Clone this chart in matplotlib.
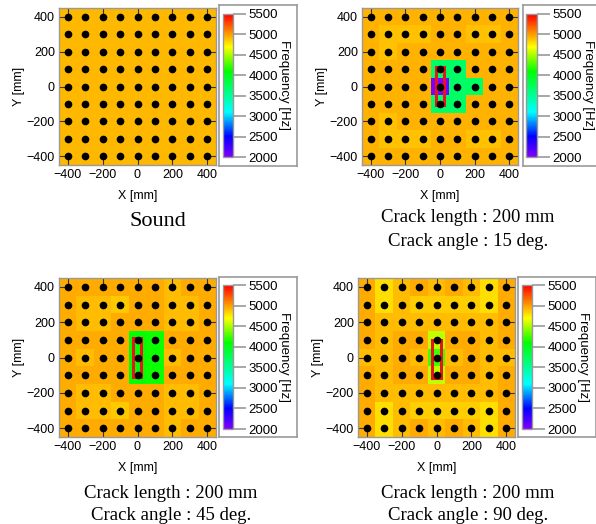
import numpy as np
import matplotlib.pyplot as plt
from matplotlib.colors import LinearSegmentedColormap, Normalize
from matplotlib.cm import ScalarMappable
from matplotlib.patches import Rectangle

plt.rcParams['font.family'] = ['Liberation Sans', 'DejaVu Sans']

W, H = 596, 524

# sensor grid positions [mm]
x_pos = [-400, -300, -200, -100, 0, 100, 200, 300, 400]
y_pos = [400, 300, 200, 100, 0, -100, -200, -300, -400]

# frequency maps [Hz], rows from y=400 down to y=-400
freq_sound = [[4925] * 9 for _ in range(9)]

freq_15 = [
    [4930, 4930, 4930, 4930, 4930, 4930, 4930, 4930, 4930],
    [4930, 4885, 4885, 4885, 4930, 4930, 4885, 4885, 4930],
    [4930, 4885, 4930, 4930, 4930, 4930, 4930, 4930, 4930],
    [4930, 4930, 4930, 4930, 3700, 3700, 4930, 4930, 4930],
    [4930, 4930, 4930, 4930, 2020, 3700, 3720, 4930, 4930],
    [4930, 4930, 4930, 4930, 3700, 3700, 4930, 4930, 4930],
    [4930, 4885, 4930, 4930, 4930, 4930, 4930, 4930, 4930],
    [4930, 4885, 4885, 4885, 4930, 4930, 4885, 4885, 4930],
    [4930, 4930, 4930, 4930, 4930, 4930, 4930, 4930, 4930],
]

freq_45 = [
    [4960, 4960, 4960, 4960, 4960, 4960, 4910, 4960, 4960],
    [4960, 4910, 4910, 4860, 4960, 4960, 4910, 4910, 4960],
    [4960, 4910, 4910, 4960, 4960, 4960, 4910, 4910, 4960],
    [4960, 4960, 4960, 4960, 4080, 4120, 4960, 4960, 4960],
    [4960, 4910, 4960, 4960, 4080, 4120, 4910, 4960, 4960],
    [4960, 4960, 4960, 4960, 4080, 4120, 4960, 4960, 4960],
    [4960, 4910, 4910, 4960, 4960, 4960, 4910, 4910, 4960],
    [4960, 4910, 4910, 4860, 4960, 4960, 4910, 4910, 4960],
    [4960, 4960, 4960, 4960, 4960, 4960, 4910, 4960, 4960],
]

freq_90 = [
    [4965, 4800, 4905, 4965, 4905, 4965, 4905, 4800, 4965],
    [4965, 4800, 4905, 4855, 4855, 4855, 4855, 4800, 4965],
    [4965, 4905, 4905, 4905, 4905, 4905, 4905, 4905, 4965],
    [4965, 4905, 4965, 4965, 4550, 4965, 4965, 4905, 4965],
    [4905, 4905, 4965, 4905, 4250, 4905, 4965, 4905, 4905],
    [4965, 4905, 4965, 4965, 4550, 4965, 4965, 4905, 4965],
    [4965, 4905, 4905, 4905, 4905, 4905, 4905, 4905, 4965],
    [4965, 4800, 4905, 4855, 4855, 4855, 4855, 4800, 4965],
    [4965, 4800, 4905, 4965, 4905, 4965, 4905, 4800, 4965],
]

# crack outline [x0, y0, width, height] in mm
crack_15 = [-25, -105, 50, 215]
crack_45 = [-28, -110, 50, 220]
crack_90 = [-28, -115, 53, 215]

captions = [
    ["Sound"],
    ["Crack length : 200 mm", "Crack angle : 15 deg."],
    ["Crack length : 200 mm", "Crack angle : 45 deg."],
    ["Crack length : 200 mm", "Crack angle : 90 deg."],
]

cbar_ticks = [2000, 2500, 3000, 3500, 4000, 4500, 5000, 5500]

cmap = LinearSegmentedColormap.from_list("freq", [
    (0.0, "#8000ff"),
    (500 / 3500, "#0000ff"),
    (1100 / 3500, "#00ffff"),
    (2100 / 3500, "#00ff00"),
    (2700 / 3500, "#ffff00"),
    (1.0, "#ff0000"),
])
norm = Normalize(2000, 5500)


def rect(x0, y0, x1, y1):
    # pixel box (top-left origin) -> figure fraction
    return [x0 / W, 1 - y1 / H, (x1 - x0) / W, (y1 - y0) / H]


fig = plt.figure(figsize=(W / 100, H / 100), dpi=100)

panels = [
    # data, crack, axes box, colorbar frame, colorbar, caption x, caption y's
    (freq_sound, None, (59, 8, 216, 165), (219, 5, 297, 166), (223, 14, 233, 157), 158, [222]),
    (freq_15, crack_15, (362, 8, 518, 165), (523, 5, 600, 166), (526, 14, 537, 157), 468, [217, 242]),
    (freq_45, crack_45, (59, 278, 216, 437), (219, 277, 297, 437), (223, 285, 233, 429), 171, [493, 515]),
    (freq_90, crack_90, (358, 278, 515, 437), (518, 277, 596, 437), (522, 285, 532, 429), 468, [493, 515]),
]

grey = "#999999"

for i, (data, crack, abox, fbox, cbox, cx, cys) in enumerate(panels):
    ax = fig.add_axes(rect(*abox))
    ax.pcolormesh(x_pos, y_pos, np.array(data), cmap=cmap, norm=norm,
                  shading="nearest")
    xx, yy = np.meshgrid(x_pos, y_pos)
    ax.plot(xx.ravel(), yy.ravel(), "o", color="black", ms=4.5, ls="none")
    if crack is not None:
        ax.add_patch(Rectangle((crack[0], crack[1]), crack[2], crack[3],
                               fill=False, ec="#e8141c", lw=2.2))
    ax.set_xlim(-450, 450)
    ax.set_ylim(-450, 450)
    ax.set_xticks([-400, -200, 0, 200, 400])
    ax.set_yticks([-400, -200, 0, 200, 400])
    ax.tick_params(direction="in", length=4, width=0.8, color="#333333",
                   top=True, right=True, labelsize=9, pad=3)
    for s in ax.spines.values():
        s.set_color(grey)
        s.set_linewidth(1.0)
    ax.set_xlabel("X [mm]", fontsize=9, labelpad=6)
    ax.set_ylabel("Y [mm]", fontsize=9, labelpad=1)

    # colorbar frame
    fr = fig.add_axes(rect(*fbox))
    fr.set_xticks([])
    fr.set_yticks([])
    for s in fr.spines.values():
        s.set_color(grey)
        s.set_linewidth(1.2)

    cax = fig.add_axes(rect(*cbox))
    cb = fig.colorbar(ScalarMappable(norm=norm, cmap=cmap), cax=cax,
                      ticks=cbar_ticks)
    cb.outline.set_edgecolor(grey)
    cb.outline.set_linewidth(1.0)
    cax.tick_params(length=9, width=1.2, color=grey, labelsize=9.5, pad=2)
    cb.set_label("Frequency [Hz]", rotation=270, fontsize=9.5, labelpad=9)

    for j, t in enumerate(captions[i]):
        fig.text(cx / W, 1 - cys[j] / H, t, ha="center", va="center",
                 family="Liberation Serif",
                 fontsize=16 if i == 0 else 13.5)

fig.savefig("out.png", dpi=100)
